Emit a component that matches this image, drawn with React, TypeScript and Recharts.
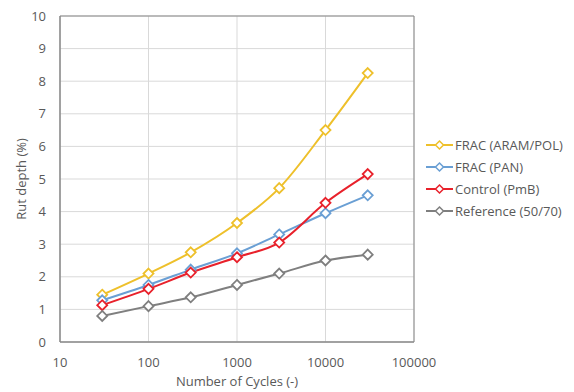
import { LineChart, Line, XAxis, YAxis, CartesianGrid, Legend, ReferenceArea } from 'recharts';

const cycles = [30, 100, 300, 1000, 3000, 10000, 30000];
const fracAramPol = [1.45, 2.1, 2.75, 3.65, 4.72, 6.5, 8.25];
const fracPan = [1.28, 1.75, 2.22, 2.72, 3.3, 3.95, 4.5];
const controlPmb = [1.13, 1.63, 2.13, 2.6, 3.05, 4.27, 5.15];
const reference = [0.8, 1.1, 1.37, 1.75, 2.1, 2.5, 2.68];
const xTicks = [10, 100, 1000, 10000, 100000];
const yTicks = [0, 1, 2, 3, 4, 5, 6, 7, 8, 9, 10];

const data = cycles.map((c, i) => ({
  cycles: c,
  aram: fracAramPol[i],
  pan: fracPan[i],
  pmb: controlPmb[i],
  ref: reference[i],
}));

const series = [
  { key: 'aram', name: 'FRAC (ARAM/POL)', color: '#EEC02B' },
  { key: 'pan', name: 'FRAC (PAN)', color: '#6A9FD4' },
  { key: 'pmb', name: 'Control (PmB)', color: '#E8212B' },
  { key: 'ref', name: 'Reference (50/70)', color: '#7F7F7F' },
];

const font = '"Open Sans", sans-serif';
const textColor = '#595959';

function Diamond(props: any) {
  const { cx, cy, stroke } = props;
  if (cx == null || cy == null) return null;
  const r = 5;
  return (
    <path
      d={`M${cx},${cy - r}L${cx + r},${cy}L${cx},${cy + r}L${cx - r},${cy}Z`}
      fill="#fff"
      stroke={stroke}
      strokeWidth={1.8}
    />
  );
}

function LegendContent() {
  return (
    <div style={{ fontFamily: font, fontSize: 13, color: textColor, whiteSpace: 'nowrap' }}>
      {series.map((s) => (
        <div key={s.key} style={{ display: 'flex', alignItems: 'center', height: 22 }}>
          <svg width={27} height={14} style={{ marginRight: 2, flexShrink: 0 }}>
            <line x1={0} y1={7} x2={27} y2={7} stroke={s.color} strokeWidth={2} />
            <path d="M13.5,3L17.5,7L13.5,11L9.5,7Z" fill="#fff" stroke={s.color} strokeWidth={1.5} />
          </svg>
          <span>{s.name}</span>
        </div>
      ))}
    </div>
  );
}

export default function App() {
  return (
    <LineChart width={566} height={384} data={data} margin={{ top: 8, right: 10, bottom: 10, left: 0 }}>
      <CartesianGrid stroke="#D9D9D9" strokeWidth={1} />
      <XAxis
        dataKey="cycles"
        type="number"
        scale="log"
        domain={[10, 100000]}
        ticks={xTicks}
        allowDataOverflow
        height={40}
        tickLine={false}
        axisLine={{ stroke: '#888' }}
        tick={{ fill: textColor, fontSize: 13, fontFamily: font }}
        tickMargin={10}
        label={{ value: 'Number of Cycles (-)', position: 'insideBottom', offset: -4, fill: textColor, fontSize: 13, fontFamily: font }}
      />
      <YAxis
        type="number"
        domain={[0, 10]}
        ticks={yTicks}
        width={52}
        tickLine={false}
        axisLine={{ stroke: '#888' }}
        tick={{ fill: textColor, fontSize: 13, fontFamily: font }}
        tickMargin={8}
        label={{ value: 'Rut depth (%)', angle: -90, position: 'insideLeft', offset: 13, fill: textColor, fontSize: 13, fontFamily: font, style: { textAnchor: 'middle' } }}
      />
      <ReferenceArea x1={10} x2={100000} y1={0} y2={10} fill="none" stroke="#888" strokeWidth={1} ifOverflow="visible" />
      <Legend
        layout="vertical"
        align="right"
        verticalAlign="middle"
        content={<LegendContent />}
        wrapperStyle={{ width: 150, left: 418, top: 126 }}
      />
      {series.map((s) => (
        <Line
          key={s.key}
          dataKey={s.key}
          name={s.name}
          type="monotone"
          stroke={s.color}
          strokeWidth={2}
          dot={<Diamond />}
          activeDot={false}
          isAnimationActive={false}
        />
      ))}
    </LineChart>
  );
}
